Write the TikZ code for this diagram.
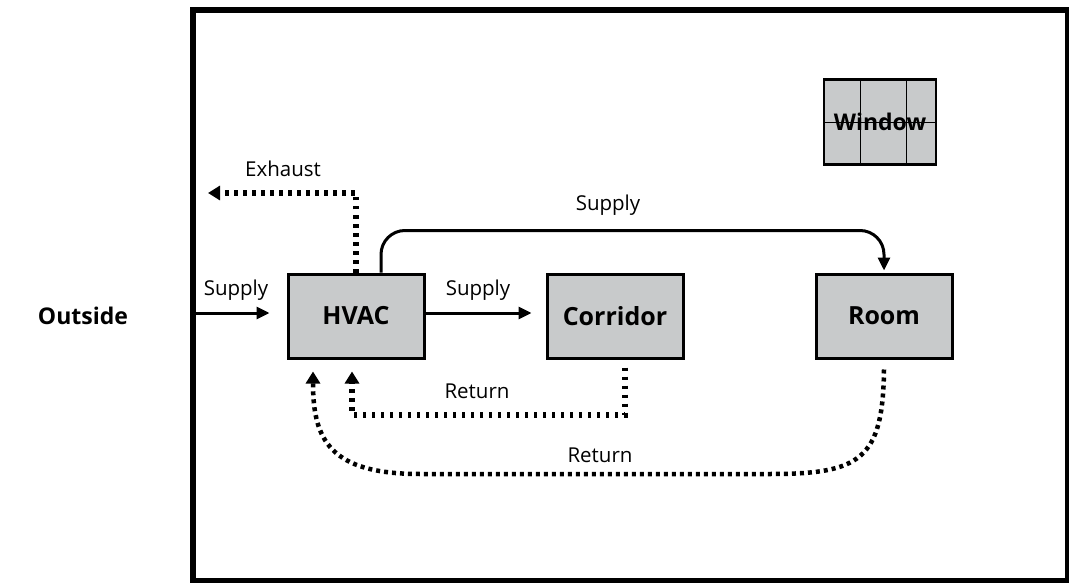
\documentclass[tikz,border=0pt]{standalone}
\usepackage{fontspec}
\setmainfont{Open Sans}
\usetikzlibrary{arrows.meta}
\definecolor{boxgray}{RGB}{200,202,203}

\begin{document}
\begin{tikzpicture}[x=1pt,y=-1pt,
    box/.style={shape=rectangle,draw=black,fill=boxgray,line width=3pt,minimum width=136pt,minimum height=84pt,font=\fontsize{25}{28}\selectfont\bfseries},
    lbl/.style={font=\fontsize{20.5}{24}\selectfont},
    flow/.style={line width=3pt,-{Triangle[length=13pt,width=12pt]}},
    ret/.style={line width=6pt,dash pattern=on 3.5pt off 5.5pt,-{Triangle[length=12pt,width=14pt]}},
    dots/.style={line width=4.5pt,dash pattern=on 4pt off 4pt,-{Triangle[length=12pt,width=14pt]}}]

        \useasboundingbox (0,0) rectangle (1069,583);
        \draw[line width=5.5pt] (193,10) rectangle (1068,581);

        \node[font=\fontsize{23}{26}\selectfont\bfseries] (out) at (83,316) {Outside};

        \node[box] (hvac) at (356,316) {HVAC};
        \node[box] (corr) at (615,316) {Corridor};
        \node[box] (room) at (884,316) {Room};

        \node[box,minimum width=112pt,minimum height=85pt,line width=2.5pt] (win) at (880,122) {};
        \draw[line width=0.8pt] (860,80) -- (860,164);
        \draw[line width=0.8pt] (906,80) -- (906,164);
        \draw[line width=0.8pt] (825,122) -- (935,122);
        \node[font=\fontsize{23}{26}\selectfont\bfseries] at (win.center) {Window};

        \coordinate (in) at (193,313);
        \coordinate (exh) at (208,193);

        \draw[flow] (in) -- ([xshift=-17pt,yshift=3pt]hvac.west);
        \node[lbl] at (236,290) {Supply};

        \draw[flow] ([yshift=3pt]hvac.east) -- ([xshift=-14pt,yshift=3pt]corr.west);
        \node[lbl] at (478,290) {Supply};

        \draw[flow,rounded corners=24pt] ([xshift=25pt]hvac.north) |- ([yshift=42pt]room.north) -- ([yshift=2pt]room.north);
        \node[lbl] at (608,205) {Supply};

        \draw[ret] (hvac.north) |- (exh);
        \node[lbl] at (283,169) {Exhaust};

        \draw[ret] ([xshift=10pt,yshift=-8pt]corr.south) |- ([xshift=-4pt,yshift=-55pt]hvac.south) -- ([xshift=-4pt,yshift=-12pt]hvac.south);
        \node[lbl] at (477,391) {Return};

        \draw[dots] ([yshift=-10pt]room.south) .. controls (883,460) and (860,474) .. (770,474) -- (420,474) .. controls (330,474) and (313,440) .. ([xshift=-43pt,yshift=-12pt]hvac.south);
        \node[lbl] at (600,455) {Return};

\end{tikzpicture}
\end{document}
